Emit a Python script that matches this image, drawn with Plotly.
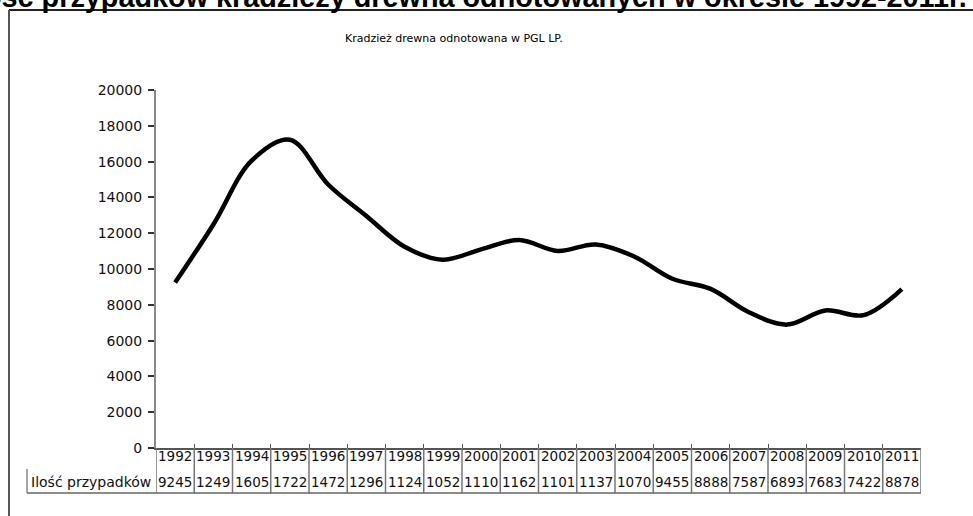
import plotly.graph_objects as go

# data
years = ["1992", "1993", "1994", "1995", "1996", "1997", "1998", "1999", "2000", "2001",
         "2002", "2003", "2004", "2005", "2006", "2007", "2008", "2009", "2010", "2011"]
cases = [9245, 12490, 16050, 17220, 14720, 12960, 11240, 10520, 11100, 11620,
         11010, 11370, 10700, 9455, 8888, 7587, 6893, 7683, 7422, 8878]
# the table cells in the original are too narrow, only 4 digits show
cell_text = [str(v)[:4] for v in cases]
row_label = "Ilość przypadków"
y_ticks = [0, 2000, 4000, 6000, 8000, 10000, 12000, 14000, 16000, 18000, 20000]

W, H = 973, 516
L, R, T, B = 156, 52, 90, 68
PW, PH = W - L - R, H - T - B

def px(x):  # pixel -> paper x
    return (x - L) / PW

def py(y):  # pixel -> paper y
    return (H - B - y) / PH

FONT = "DejaVu Sans"
idx = list(range(len(years)))

fig = go.Figure()
fig.add_trace(go.Scatter(
    x=idx, y=cases, mode="lines",
    line=dict(color="#000000", width=4.5, shape="spline", smoothing=1),
    hoverinfo="skip", showlegend=False,
))

shapes = []
# outer frame (only top and left edges are inside the picture)
shapes.append(dict(type="line", xref="paper", yref="paper", x0=px(9), x1=px(980), y0=py(10), y1=py(10),
                   line=dict(color="#222222", width=2)))
shapes.append(dict(type="line", xref="paper", yref="paper", x0=px(9), x1=px(9), y0=py(10), y1=py(520),
                   line=dict(color="#555555", width=2)))
# data table grid
for i in range(len(years) + 1):
    shapes.append(dict(type="line", xref="x", yref="paper", x0=i - 0.5, x1=i - 0.5, y0=0, y1=py(493),
                       line=dict(color="#777777", width=1.5)))
shapes.append(dict(type="line", xref="paper", yref="paper", x0=px(27), x1=1, y0=py(493), y1=py(493),
                   line=dict(color="#666666", width=1.5)))
shapes.append(dict(type="line", xref="paper", yref="paper", x0=px(27), x1=px(27), y0=py(469), y1=py(493),
                   line=dict(color="#888888", width=1.5)))

annotations = []
# page heading above the chart, cut by the top edge of the scan
annotations.append(dict(text="<b>Ilość przypadków kradzieży drewna odnotowanych w okresie 1992-2011r.</b>",
                        xref="paper", yref="paper", x=px(-34), y=py(15), xanchor="left", yanchor="bottom",
                        showarrow=False, font=dict(family="Liberation Sans", size=28.8, color="#000000")))
annotations.append(dict(text="Kradzież drewna odnotowana w PGL LP.", xref="paper", yref="paper",
                        x=px(454), y=py(38), xanchor="center", yanchor="middle", showarrow=False,
                        font=dict(family=FONT, size=11, color="#000000")))
for i in idx:
    annotations.append(dict(text=years[i], xref="x", yref="paper", x=i, y=py(456), yanchor="middle",
                            showarrow=False, font=dict(family=FONT, size=13.5, color="#111111")))
    annotations.append(dict(text=cell_text[i], xref="x", yref="paper", x=i, y=py(482), yanchor="middle",
                            showarrow=False, font=dict(family=FONT, size=13.5, color="#111111")))
annotations.append(dict(text=row_label, xref="paper", yref="paper", x=px(153), y=py(482),
                        xanchor="right", yanchor="middle", showarrow=False,
                        font=dict(family=FONT, size=14, color="#111111")))

fig.update_layout(
    width=W, height=H,
    margin=dict(l=L, r=R, t=T, b=B),
    paper_bgcolor="white", plot_bgcolor="white",
    shapes=shapes, annotations=annotations,
    xaxis=dict(range=[-0.5, len(years) - 0.5], showgrid=False, zeroline=False,
               showline=True, linecolor="#555555", linewidth=2,
               tickvals=[i + 0.5 for i in range(len(years) - 1)], ticks="inside",
               ticklen=4, tickcolor="#555555", showticklabels=False),
    yaxis=dict(range=[0, 20000], tickvals=y_ticks, tickformat="d", showgrid=False, zeroline=False,
               showline=True, linecolor="#888888", linewidth=2,
               ticks="outside", ticklen=6, tickcolor="#333333", tickwidth=1.5,
               ticklabelstandoff=3,
               tickfont=dict(family=FONT, size=14, color="#111111")),
)

# the page body has an 8px default margin, drop it so the figure sits at 0,0
fig.write_html("out.html", config={"displayModeBar": False},
               post_script="document.body.style.margin='0';")
